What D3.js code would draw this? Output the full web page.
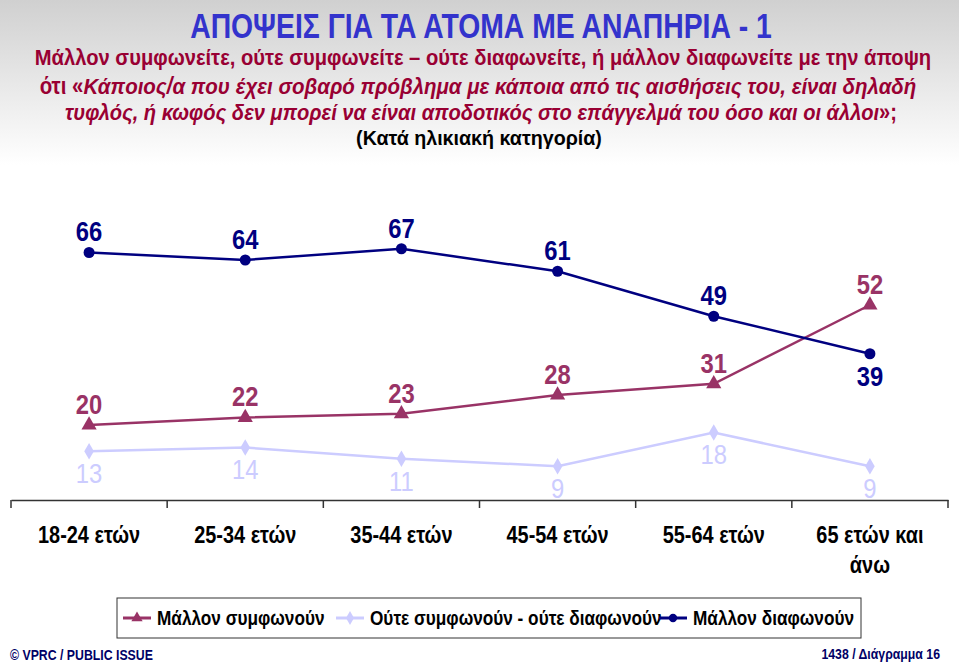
<!DOCTYPE html>
<html><head><meta charset="utf-8">
<script src="https://cdn.jsdelivr.net/npm/d3@7"></script>
<style>
html,body{margin:0;padding:0;background:#fff;}
svg{display:block;}
text{font-family:"Liberation Sans Narrow","Arial Narrow","Liberation Sans",Arial,sans-serif;}
</style></head>
<body><svg id="chart" width="959" height="662"></svg>
<script>
const categories = [["18-24 ετών"],["25-34 ετών"],["35-44 ετών"],["45-54 ετών"],["55-64 ετών"],["65 ετών και","άνω"]];
const agree = [20,22,23,28,31,52];
const neither = [13,14,11,9,18,9];
const disagree = [66,64,67,61,49,39];
const seriesNames = ["Μάλλον συμφωνούν","Ούτε συμφωνούν - ούτε διαφωνούν","Μάλλον διαφωνούν"];

const svg = d3.select("#chart");
const W = 959, H = 662;

// horizontal condensing helpers (emulate a narrow face)
function squeeze(t, k){
  const node = t.node();
  const ax = +t.attr("x");
  t.attr("transform", `translate(${ax},0) scale(${k},1) translate(${-ax},0)`);
  return t;
}
function fitW(t, w){
  const len = t.node().getComputedTextLength();
  return squeeze(t, w/len);
}

// header gradient background
const defs = svg.append("defs");
const grad = defs.append("linearGradient").attr("id","hg").attr("x1",0).attr("y1",0).attr("x2",0).attr("y2",1);
grad.append("stop").attr("offset","0%").attr("stop-color","#d0d0d0");
grad.append("stop").attr("offset","100%").attr("stop-color","#ffffff");
svg.append("rect").attr("x",0).attr("y",0).attr("width",W).attr("height",165).attr("fill","url(#hg)");

// Titles
fitW(svg.append("text").attr("x",481).attr("y",38).attr("text-anchor","middle")
  .attr("font-size",36).attr("font-weight","bold").attr("fill","#3333cc")
  .text("ΑΠΟΨΕΙΣ ΓΙΑ ΤΑ ΑΤΟΜΑ ΜΕ ΑΝΑΠΗΡΙΑ - 1"), 582);
const subCol = "#990033";
fitW(svg.append("text").attr("x",483).attr("y",65).attr("text-anchor","middle")
  .attr("font-size",23).attr("font-weight","bold").attr("fill",subCol)
  .text("Μάλλον συμφωνείτε, ούτε συμφωνείτε – ούτε διαφωνείτε, ή μάλλον διαφωνείτε με την άποψη"), 897);
const sub2 = svg.append("text").attr("x",478).attr("y",94).attr("text-anchor","middle")
  .attr("font-size",23).attr("font-weight","bold").attr("fill",subCol);
sub2.append("tspan").text("ότι «");
sub2.append("tspan").attr("font-style","italic").text("Κάποιος/α που έχει σοβαρό πρόβλημα με κάποια από τις αισθήσεις του, είναι δηλαδή");
fitW(sub2, 877);
const sub3 = svg.append("text").attr("x",481).attr("y",120).attr("text-anchor","middle")
  .attr("font-size",23).attr("font-weight","bold").attr("fill",subCol);
sub3.append("tspan").attr("font-style","italic").text("τυφλός, ή κωφός δεν μπορεί να είναι αποδοτικός στο επάγγελμά του όσο και οι άλλοι");
sub3.append("tspan").text("»;");
fitW(sub3, 832);
fitW(svg.append("text").attr("x",479).attr("y",145).attr("text-anchor","middle")
  .attr("font-size",21).attr("font-weight","bold").attr("fill","#000")
  .text("(Κατά ηλικιακή κατηγορία)"), 246);

// Scales
const x = d3.scaleBand().domain(d3.range(categories.length)).range([11,948]);
const y = d3.scaleLinear().domain([0,80]).range([500,200]);
const cx = i => x(i) + x.bandwidth()/2;

// Axis
const axis = d3.axisBottom(x).tickSize(0).tickFormat("");
const gAxis = svg.append("g").attr("transform","translate(0,500)").call(axis);
gAxis.select(".domain").attr("stroke","#333").attr("stroke-width",1.5);
const bounds = d3.range(categories.length+1).map(i => i < categories.length ? x(i) : x(categories.length-1)+x.bandwidth());
gAxis.selectAll("line.b").data(bounds).enter().append("line").attr("class","b")
  .attr("x1",d=>d).attr("x2",d=>d).attr("y1",0).attr("y2",8).attr("stroke","#333").attr("stroke-width",1.5);

// Category labels
categories.forEach((lines,i)=>{
  lines.forEach((l,j)=>{
    squeeze(svg.append("text").attr("x",cx(i)).attr("y",543 + j*30).attr("text-anchor","middle")
      .attr("font-size",24).attr("font-weight","bold").attr("fill","#000").text(l), 0.83);
  });
});

const line = d3.line().x((d,i)=>cx(i)).y(d=>y(d));
const colors = {agree:"#993366", neither:"#ccccff", disagree:"#000080"};
const LK = 0.85;

// Neither series
svg.append("path").datum(neither).attr("d",line).attr("fill","none").attr("stroke",colors.neither).attr("stroke-width",2.5);
svg.selectAll(".mn").data(neither).enter().append("path")
  .attr("transform",(d,i)=>`translate(${cx(i)},${y(d)})`)
  .attr("d",d3.symbol().type(d3.symbolDiamond).size(80)).attr("fill",colors.neither);
neither.forEach((d,i)=>{
  squeeze(svg.append("text").attr("x",cx(i)).attr("y",y(d)+32).attr("text-anchor","middle")
    .attr("font-size",28).attr("fill",colors.neither).text(d), LK);
});

// Agree series
svg.append("path").datum(agree).attr("d",line).attr("fill","none").attr("stroke",colors.agree).attr("stroke-width",2.5);
svg.selectAll(".ma").data(agree).enter().append("path")
  .attr("transform",(d,i)=>`translate(${cx(i)},${y(d)})`)
  .attr("d",d3.symbol().type(d3.symbolTriangle).size(100)).attr("fill",colors.agree);
agree.forEach((d,i)=>{
  squeeze(svg.append("text").attr("x",cx(i)).attr("y",y(d)-11).attr("text-anchor","middle")
    .attr("font-size",28).attr("font-weight","bold").attr("fill",colors.agree).text(d), LK);
});

// Disagree series
svg.append("path").datum(disagree).attr("d",line).attr("fill","none").attr("stroke",colors.disagree).attr("stroke-width",2.5);
svg.selectAll(".md").data(disagree).enter().append("circle")
  .attr("cx",(d,i)=>cx(i)).attr("cy",d=>y(d)).attr("r",5.5).attr("fill",colors.disagree);
disagree.forEach((d,i)=>{
  const last = i===disagree.length-1;
  squeeze(svg.append("text").attr("x",cx(i)).attr("y", last ? y(d)+32 : y(d)-11).attr("text-anchor","middle")
    .attr("font-size",28).attr("font-weight","bold").attr("fill",colors.disagree).text(d), LK);
});

// Legend
svg.append("rect").attr("x",117).attr("y",598).attr("width",744).attr("height",40)
  .attr("fill","#fff").attr("stroke","#333").attr("stroke-width",1);
const legItems = [
  {name:seriesNames[0], col:colors.agree, sym:d3.symbolTriangle, x:123},
  {name:seriesNames[1], col:colors.neither, sym:d3.symbolDiamond, x:336},
  {name:seriesNames[2], col:colors.disagree, sym:d3.symbolCircle, x:659}
];
legItems.forEach(it=>{
  svg.append("line").attr("x1",it.x).attr("x2",it.x+28).attr("y1",618).attr("y2",618).attr("stroke",it.col).attr("stroke-width",3);
  svg.append("path").attr("transform",`translate(${it.x+14},618)`).attr("d",d3.symbol().type(it.sym).size(55)).attr("fill",it.col);
  squeeze(svg.append("text").attr("x",it.x+34).attr("y",625).attr("font-size",21).attr("font-weight","bold").attr("fill","#000").text(it.name), 0.82);
});

// Footer
squeeze(svg.append("text").attr("x",10).attr("y",660).attr("font-size",15).attr("font-weight","bold").attr("fill","#000066").text("© VPRC / PUBLIC ISSUE"), 0.82);
squeeze(svg.append("text").attr("x",940).attr("y",659).attr("text-anchor","end").attr("font-size",15).attr("font-weight","bold").attr("fill","#000066").text("1438 / Διάγραμμα 16"), 0.82);
</script></body></html>
